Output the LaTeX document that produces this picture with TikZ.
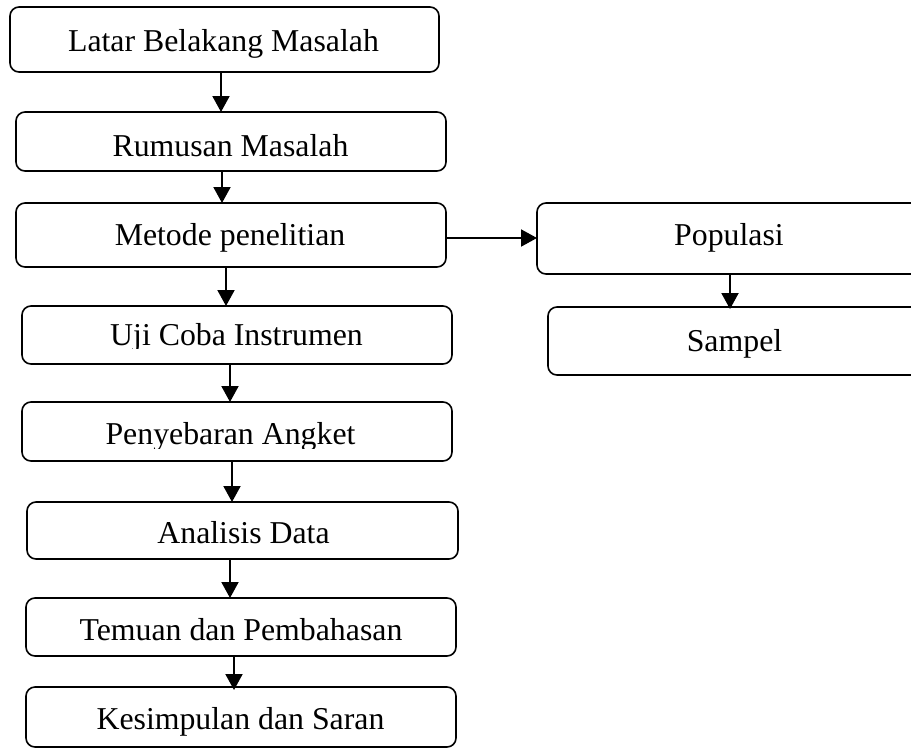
\documentclass[tikz,border=0pt]{standalone}
\usepackage{fontspec}
\setmainfont{Liberation Serif}
\usetikzlibrary{arrows.meta}
\begin{document}
\begin{tikzpicture}[x=1pt,y=-1pt,
  box/.style={draw,line width=1.6pt,rounded corners=9pt,inner sep=0pt,outer sep=0pt},
  lbl/.style={anchor=base,inner sep=0pt,font=\fontsize{31.8}{36}\selectfont},
  arr/.style={line width=2pt,-{Triangle[width=17pt,length=16pt]}}]
\clip (0,0) rectangle (911,748);
% boxes
\node[box,minimum width=429pt,minimum height=65pt] (b1) at (224.5,39.5) {};
\node[box,minimum width=430pt,minimum height=59pt] (b2) at (231,141.5) {};
\node[box,minimum width=430pt,minimum height=64pt] (b3) at (231,235) {};
\node[box,minimum width=430pt,minimum height=58pt] (b4) at (237,335) {};
\node[box,minimum width=430pt,minimum height=59pt] (b5) at (237,431.5) {};
\node[box,minimum width=431pt,minimum height=57pt] (b6) at (242.5,530.5) {};
\node[box,minimum width=430pt,minimum height=58pt] (b7) at (241,627) {};
\node[box,minimum width=430pt,minimum height=60pt] (b8) at (241,717) {};
\node[box,minimum width=384pt,minimum height=71pt] (p1) at (729,238.5) {};
\node[box,minimum width=373pt,minimum height=68pt] (s1) at (734.5,341) {};
% texts
\node[lbl] (t1) at (223.5,51) {Latar Belakang Masalah};
\node[lbl] (t2) at (230.5,156) {Rumusan Masalah};
\node[lbl] (t3) at (230,245.5) {Metode penelitian};
\begin{scope}
\clip (0,300) rectangle (911,348.5);
\node[lbl] (t4) at (236.5,345.5) {Uji Coba Instrumen};
\end{scope}
\begin{scope}
\clip (0,400) rectangle (911,448.3);
\node[lbl] (t5) at (230.5,444.5) {Penyebaran Angket};
\end{scope}
\node[lbl] (t6) at (243.5,543) {Analisis Data};
\node[lbl] (t7) at (241,640) {Temuan dan Pembahasan};
\node[lbl] (t8) at (240.5,729) {Kesimpulan dan Saran};
\node[lbl] (tp) at (729,245.7) {Populasi};
\node[lbl] (ts) at (734.5,351.7) {Sampel};
% arrows
\draw[arr] (b1.south -| 221,0) -- (b2.north -| 221,0);
\draw[arr] (b2.south -| 222,0) -- (b3.north -| 222,0);
\draw[arr] (b3.south -| 226,0) -- (b4.north -| 226,0);
\draw[arr] (b4.south -| 230,0) -- (b5.north -| 230,0);
\draw[arr] (b5.south -| 232,0) -- (b6.north -| 232,0);
\draw[arr] (b6.south -| 230,0) -- (b7.north -| 230,0);
\draw[arr] (b7.south -| 234,0) -- ([yshift=-3pt]b8.north -| 234,0);
\draw[arr] (b3.east |- 0,238) -- (p1.west |- 0,238);
\draw[arr] (p1.south -| 730,0) -- ([yshift=-2pt]s1.north -| 730,0);
\end{tikzpicture}
\end{document}
